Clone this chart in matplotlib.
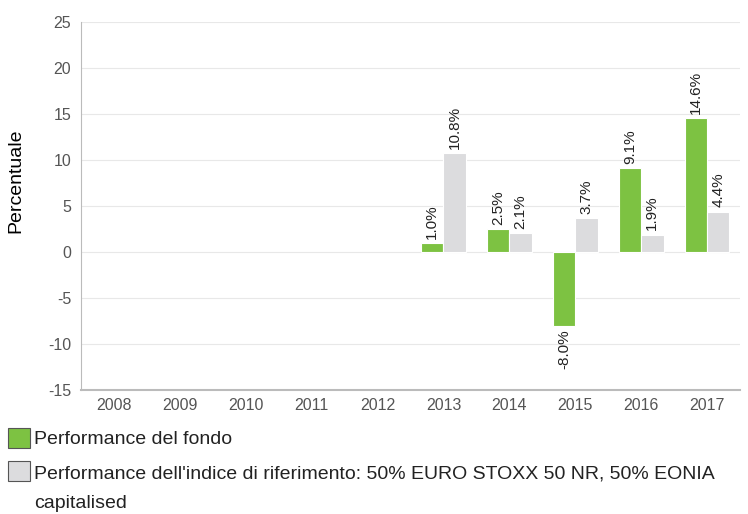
import matplotlib
matplotlib.use("Agg")
import matplotlib.pyplot as plt
import numpy as np
from matplotlib.patches import Rectangle

years = ['2008', '2009', '2010', '2011', '2012', '2013', '2014', '2015', '2016', '2017']
fund = [None, None, None, None, None, 1.0, 2.5, -8.0, 9.1, 14.6]
index = [None, None, None, None, None, 10.8, 2.1, 3.7, 1.9, 4.4]
fund_label = 'Performance del fondo'
index_label = ("Performance dell'indice di riferimento: 50% EURO STOXX 50 NR, 50% EONIA")
index_label2 = 'capitalised'

green = '#7dc242'
grey = '#dcdcde'

plt.rcParams['font.family'] = ['Liberation Sans', 'DejaVu Sans']
plt.rcParams['axes.unicode_minus'] = False

fig = plt.figure(figsize=(7.48, 5.14), dpi=100)
ax = fig.add_axes([0.1083, 0.2412, 0.881, 0.7158])

x = np.arange(len(years))
w = 0.34
for i in range(len(years)):
    if fund[i] is not None:
        ax.bar(x[i] - w / 2, fund[i], w, color=green, edgecolor='white', linewidth=0.8, zorder=3)
        va = 'bottom' if fund[i] >= 0 else 'top'
        off = 3 if fund[i] >= 0 else -3
        ax.annotate('%.1f%%' % fund[i], (x[i] - w / 2, fund[i]), xytext=(0, off),
                    textcoords='offset points', rotation=90, ha='center', va=va,
                    fontsize=11, color='#222222')
    if index[i] is not None:
        ax.bar(x[i] + w / 2, index[i], w, color=grey, edgecolor='white', linewidth=0.8, zorder=3)
        ax.annotate('%.1f%%' % index[i], (x[i] + w / 2, index[i]), xytext=(0, 3),
                    textcoords='offset points', rotation=90, ha='center', va='bottom',
                    fontsize=11, color='#222222')

ax.set_xlim(-0.5, len(years) - 0.5)
ax.set_ylim(-15, 25)
ax.set_yticks(range(-15, 26, 5))
ax.set_xticks(x)
ax.set_xticklabels(years)
ax.grid(axis='y', color='#e8e8e8', linewidth=0.8, zorder=0)
ax.tick_params(axis='both', length=0, labelsize=11.5, labelcolor='#555555')
ax.tick_params(axis='y', pad=7)
ax.tick_params(axis='x', pad=6)
for s in ['top', 'right']:
    ax.spines[s].set_visible(False)
ax.spines['left'].set_color('#bbbbbb')
ax.spines['bottom'].set_color('#bbbbbb')
ax.spines['bottom'].set_linewidth(1.5)
ax.set_ylabel('Percentuale', fontsize=14)
ax.yaxis.set_label_coords(-0.086, 0.568)

# legend drawn below the plot
fig.patches.append(Rectangle((8 / 748, 1 - 448 / 514), 22 / 748, 20 / 514,
                             transform=fig.transFigure, facecolor=green,
                             edgecolor='#555555', linewidth=0.8))
fig.patches.append(Rectangle((8 / 748, 1 - 481 / 514), 22 / 748, 20 / 514,
                             transform=fig.transFigure, facecolor=grey,
                             edgecolor='#555555', linewidth=0.8))
fig.text(34 / 748, 1 - 440 / 514, fund_label, fontsize=14, va='center', color='#222222')
fig.text(34 / 748, 1 - 474 / 514, index_label, fontsize=14, va='center', color='#222222')
fig.text(34 / 748, 1 - 503 / 514, index_label2, fontsize=14, va='center', color='#222222')

fig.savefig('out.png', dpi=100)
